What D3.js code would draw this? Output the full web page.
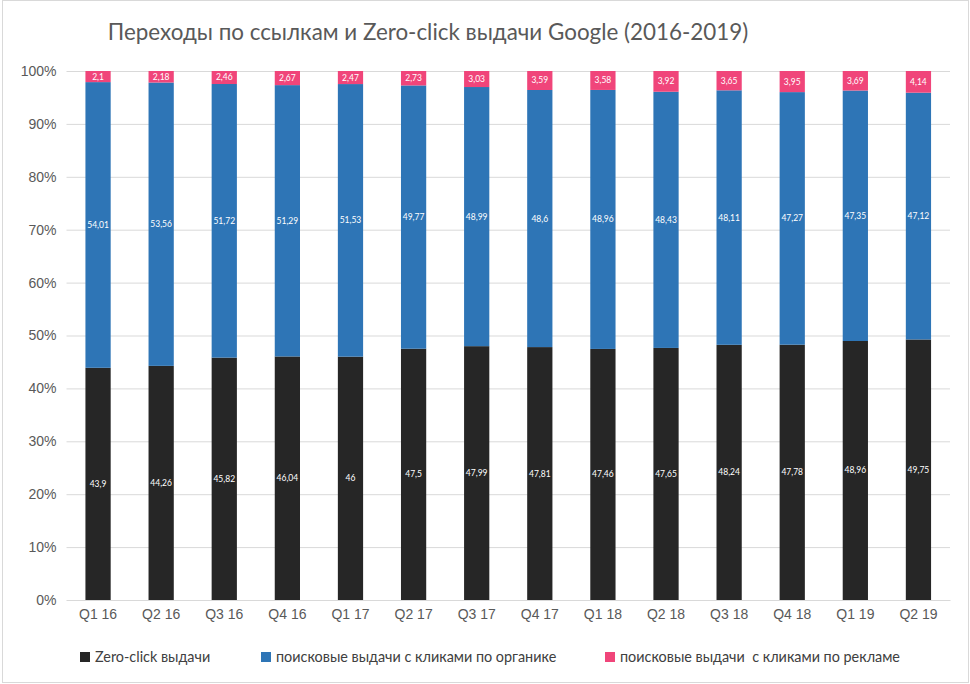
<!DOCTYPE html>
<html>
<head>
<meta charset="utf-8">
<script src="https://cdn.jsdelivr.net/npm/d3@7"></script>
<style>
  body { margin: 0; background: #fff; }
  svg { display: block; font-family: Lato, "Open Sans", sans-serif; }
</style>
</head>
<body>
<div class="chart"></div>
<script>
const quarters = ["Q1 16", "Q2 16", "Q3 16", "Q4 16", "Q1 17", "Q2 17", "Q3 17",
  "Q4 17", "Q1 18", "Q2 18", "Q3 18", "Q4 18", "Q1 19", "Q2 19"]
const zeroClick = [43.9, 44.26, 45.82, 46.04, 46, 47.5, 47.99, 47.81, 47.46, 47.65, 48.24, 47.78, 48.96, 49.75]
const organic = [54.01, 53.56, 51.72, 51.29, 51.53, 49.77, 48.99, 48.6, 48.96, 48.43, 48.11, 47.27, 47.35, 47.12]
const paid = [2.1, 2.18, 2.46, 2.67, 2.47, 2.73, 3.03, 3.59, 3.58, 3.92, 3.65, 3.95, 3.69, 4.14]
const seriesNames = ["Zero-click выдачи", "поисковые выдачи с кликами по органике", "поисковые выдачи  с кликами по рекламе"]
const yTicks = [0, 0.1, 0.2, 0.3, 0.4, 0.5, 0.6, 0.7, 0.8, 0.9, 1]

const colors = ["#262626", "#2e75b6", "#f0457a"]

const W = 970, H = 684
const margin = {top: 71, right: 20, bottom: 84, left: 66.5}

const rows = quarters.map((q, i) => ({q: q, s0: zeroClick[i], s1: organic[i], s2: paid[i]}))

const svg = d3.select(".chart").append("svg")
  .attr("width", W).attr("height", H)

// frame
svg.append("rect")
  .attr("x", 2.5).attr("y", 0.5).attr("width", W - 4).attr("height", H - 2)
  .attr("fill", "none").attr("stroke", "#d9d9d9")

const x = d3.scaleBand()
  .domain(quarters)
  .range([margin.left, 950])
  .paddingInner(0.6).paddingOuter(0.3)

const y = d3.scaleLinear()
  .domain([0, 1])
  .range([600, margin.top])

// gridlines + y labels
const yAxis = svg.append("g")
  .attr("transform", `translate(${margin.left},0)`)
  .call(d3.axisLeft(y).tickValues(yTicks).tickSize(-(950 - margin.left)).tickFormat(d3.format(".0%")).tickPadding(10))
yAxis.select(".domain").remove()
yAxis.selectAll("line").attr("stroke", "#d9d9d9")
yAxis.selectAll("text").attr("fill", "#595959").style("font-size", "14px")

const stack = d3.stack()
  .keys(["s0", "s1", "s2"])
  .offset(d3.stackOffsetExpand)
const stacked = stack(rows)

const layers = svg.selectAll(".layer")
  .data(stacked)
  .join("g")
    .attr("class", "layer")
    .attr("fill", (d, i) => colors[i])

layers.selectAll("rect")
  .data(d => d)
  .join("rect")
    .attr("x", d => x(d.data.q))
    .attr("y", d => y(d[1]))
    .attr("width", x.bandwidth())
    .attr("height", d => y(d[0]) - y(d[1]))

// value labels
layers.selectAll("text")
  .data(d => d.map(v => ({v: v, key: d.key})))
  .join("text")
    .attr("x", d => x(d.v.data.q) + x.bandwidth() / 2)
    .attr("y", d => (y(d.v[0]) + y(d.v[1])) / 2)
    .attr("dy", "0.35em")
    .attr("text-anchor", "middle")
    .attr("fill", "#fff")
    .style("font-size", "8.5px")
    .text(d => String(d.v.data[d.key]).replace(".", ","))

// x axis
const xAxis = svg.append("g")
  .attr("transform", "translate(0,600)")
  .call(d3.axisBottom(x).tickSize(0).tickPadding(9))
xAxis.select(".domain").attr("stroke", "#d9d9d9")
xAxis.selectAll("text").attr("fill", "#595959").style("font-size", "14px")

// title
svg.append("text")
  .attr("x", 428).attr("y", 40)
  .attr("text-anchor", "middle")
  .attr("fill", "#595959")
  .style("font-size", "22.4px")
  .text("Переходы по ссылкам и Zero-click выдачи Google (2016-2019)")

// legend
const legendX = [80, 261, 605]
const legend = svg.selectAll(".legend")
  .data(seriesNames)
  .join("g")
    .attr("class", "legend")
    .attr("transform", (d, i) => `translate(${legendX[i]},657)`)
legend.append("rect")
  .attr("x", 0).attr("y", -5).attr("width", 10).attr("height", 10)
  .attr("fill", (d, i) => colors[i])
legend.append("text")
  .attr("x", 15).attr("dy", "0.35em")
  .attr("fill", "#404040")
  .style("font-size", "14.4px")
  .style("white-space", "pre")
  .text(d => d)
</script>
</body>
</html>
